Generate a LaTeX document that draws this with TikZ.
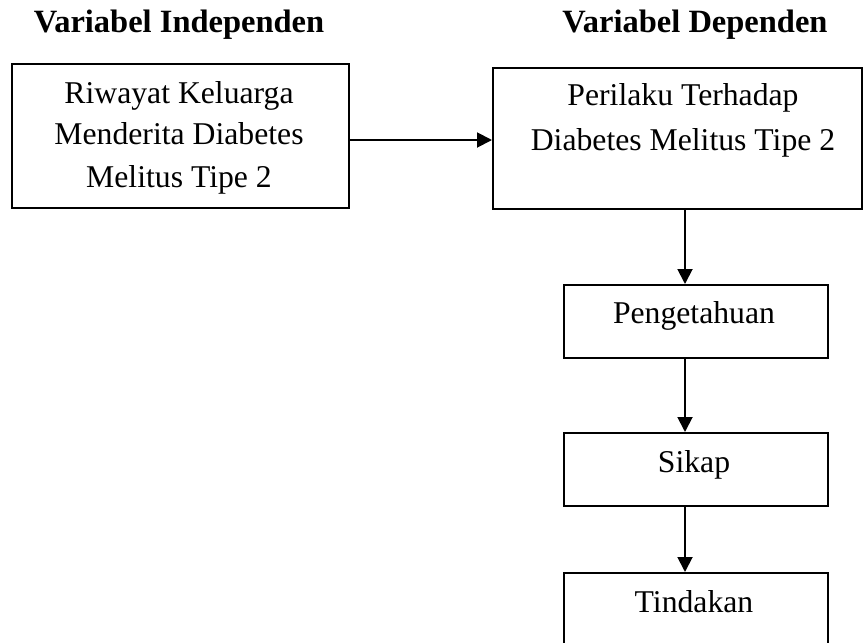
\documentclass[tikz,border=0pt]{standalone}
\usepackage{fontspec}
\setmainfont{Liberation Serif}
\usetikzlibrary{arrows.meta}
\tikzset{
  boxnode/.style={draw=black, line width=1.8pt, inner sep=0pt, anchor=north west},
  txt/.style={anchor=base, inner sep=0pt, font=\fontsize{31.7}{42}\selectfont},
  ttl/.style={anchor=base, inner sep=0pt, font=\fontsize{32.5}{38}\selectfont\bfseries},
  conn/.style={line width=1.9pt, -{Triangle[length=15pt,width=15pt]}}
}
\begin{document}
\begin{tikzpicture}[x=1pt,y=-1pt]
\useasboundingbox (0,0) rectangle (863,643);
\clip (0,0) rectangle (863,643);
% titles
\node[ttl] (t1) at (179,32) {Variabel Independen};
\node[ttl] (t2) at (695,32) {Variabel Dependen};
% boxes
\node[boxnode, minimum width=337pt, minimum height=144pt] (b1) at (11,63) {};
\node[boxnode, minimum width=369pt, minimum height=141pt] (b2) at (492,67) {};
\node[boxnode, minimum width=264pt, minimum height=73pt] (b3) at (563,284) {};
\node[boxnode, minimum width=264pt, minimum height=73pt] (b4) at (563,432) {};
\node[boxnode, minimum width=264pt, minimum height=100pt] (b5) at (563,572) {};
% texts
\node[txt] (l1a) at (179,103) {Riwayat Keluarga};
\node[txt] (l1b) at (179,144) {Menderita Diabetes};
\node[txt] (l1c) at (179,187) {Melitus Tipe 2};
\node[txt] (l2a) at (683,105) {Perilaku Terhadap};
\node[txt] (l2b) at (683,150) {Diabetes Melitus Tipe 2};
\node[txt] (l3) at (694,323) {Pengetahuan};
\node[txt] (l4) at (694,472) {Sikap};
\node[txt] (l5) at (694,612) {Tindakan};
% connectors
\draw[conn] (b1.east |- 0,140) -- (b2.west |- 0,140);
\draw[conn] (b2.south -| 685,0) -- (b3.north -| 685,0);
\draw[conn] (b3.south -| 685,0) -- (b4.north -| 685,0);
\draw[conn] (b4.south -| 685,0) -- (b5.north -| 685,0);
\end{tikzpicture}
\end{document}
